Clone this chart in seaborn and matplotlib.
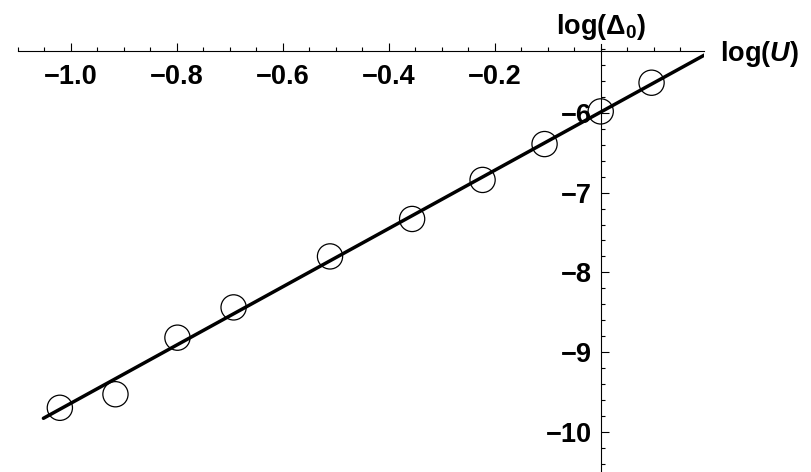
import numpy as np
import pandas as pd
import matplotlib
matplotlib.use("Agg")
import matplotlib.pyplot as plt
from matplotlib.ticker import MultipleLocator, FixedLocator, FuncFormatter
import seaborn as sns

# Measured points: log(U) vs log(Delta_0)
log_u = [-1.021, -0.916, -0.799, -0.693, -0.511, -0.356, -0.223, -0.106, 0.000, 0.096]
log_delta0 = [-9.70, -9.53, -8.82, -8.44, -7.80, -7.33, -6.84, -6.39, -5.98, -5.62]

# Straight-line fit, drawn between its two end points
fit_u = [-1.052, 0.196]
fit_delta0 = [-9.832, -5.272]

x_major = [-1.0, -0.8, -0.6, -0.4, -0.2]
y_major = [-10, -9, -8, -7, -6]

sns.set_theme(style="white")
plt.rcParams["font.family"] = ["Liberation Sans", "DejaVu Sans"]
plt.rcParams["font.weight"] = "bold"
plt.rcParams["mathtext.fontset"] = "custom"
plt.rcParams["mathtext.rm"] = "Liberation Sans:bold"
plt.rcParams["mathtext.bf"] = "Liberation Sans:bold"
plt.rcParams["mathtext.it"] = "Liberation Sans:italic:bold"
plt.rcParams["mathtext.bfit"] = "Liberation Sans:italic:bold"
plt.rcParams["axes.unicode_minus"] = True

fig = plt.figure(figsize=(8.12, 4.72), dpi=100)
ax = fig.add_axes([18 / 812, 0.0, 686 / 812, 428 / 472])
ax.set_facecolor("white")

df_pts = pd.DataFrame({"u": log_u, "d": log_delta0})
df_fit = pd.DataFrame({"u": fit_u, "d": fit_delta0})

sns.lineplot(data=df_fit, x="u", y="d", color="black", linewidth=2.5,
             ax=ax, zorder=4)
sns.scatterplot(data=df_pts, x="u", y="d", marker="o", s=330,
                color="black", linewidth=0.9, ax=ax, zorder=5)
for coll in ax.collections:
    coll.set_facecolor("none")
    coll.set_edgecolor("black")
    coll.set_linewidth(0.9)

ax.set_xlim(-1.1, 0.195)
ax.set_ylim(-10.506, -5.134)

# Axes crossing at the origin of the plot
for side in ("top", "right"):
    ax.spines[side].set_visible(False)
ax.spines["bottom"].set_position(("data", -5.222))
ax.spines["left"].set_position(("data", 0.0))
for side in ("bottom", "left"):
    ax.spines[side].set_color("black")
    ax.spines[side].set_linewidth(0.8)
    ax.spines[side].set_zorder(3)

ax.xaxis.set_major_locator(FixedLocator(x_major))
ax.xaxis.set_minor_locator(MultipleLocator(0.05))
ax.yaxis.set_major_locator(FixedLocator(y_major))
ax.yaxis.set_minor_locator(MultipleLocator(0.2))

fmt_x = FuncFormatter(lambda v, p: f"{v:.1f}".replace("-", "\u2212"))
fmt_y = FuncFormatter(lambda v, p: f"{int(round(v))}".replace("-", "\u2212"))
ax.xaxis.set_major_formatter(fmt_x)
ax.yaxis.set_major_formatter(fmt_y)

ax.tick_params(axis="both", which="both", direction="in", color="black",
               width=0.8, labelsize=19.5, labelcolor="black",
               bottom=True, left=True, top=False, right=False)
ax.tick_params(axis="both", which="major", length=6)
ax.tick_params(axis="both", which="minor", length=3)
ax.tick_params(axis="x", which="major", pad=9)
ax.tick_params(axis="y", which="major", pad=6)
for lab in ax.get_xticklabels() + ax.get_yticklabels():
    lab.set_fontweight("bold")

ax.set_xlabel("")
ax.set_ylabel("")

fig.text(601 / 812, 1 - 27 / 472, r"$\mathbf{log(\Delta_0)}$", ha="center",
         va="center", fontsize=19.5, color="black")
fig.text(720 / 812, 1 - 54 / 472, r"$\mathbf{log(}\mathbfit{U}\mathbf{)}$",
         ha="left", va="center", fontsize=19.5, color="black")

fig.savefig("out.png", dpi=100, facecolor="white")
